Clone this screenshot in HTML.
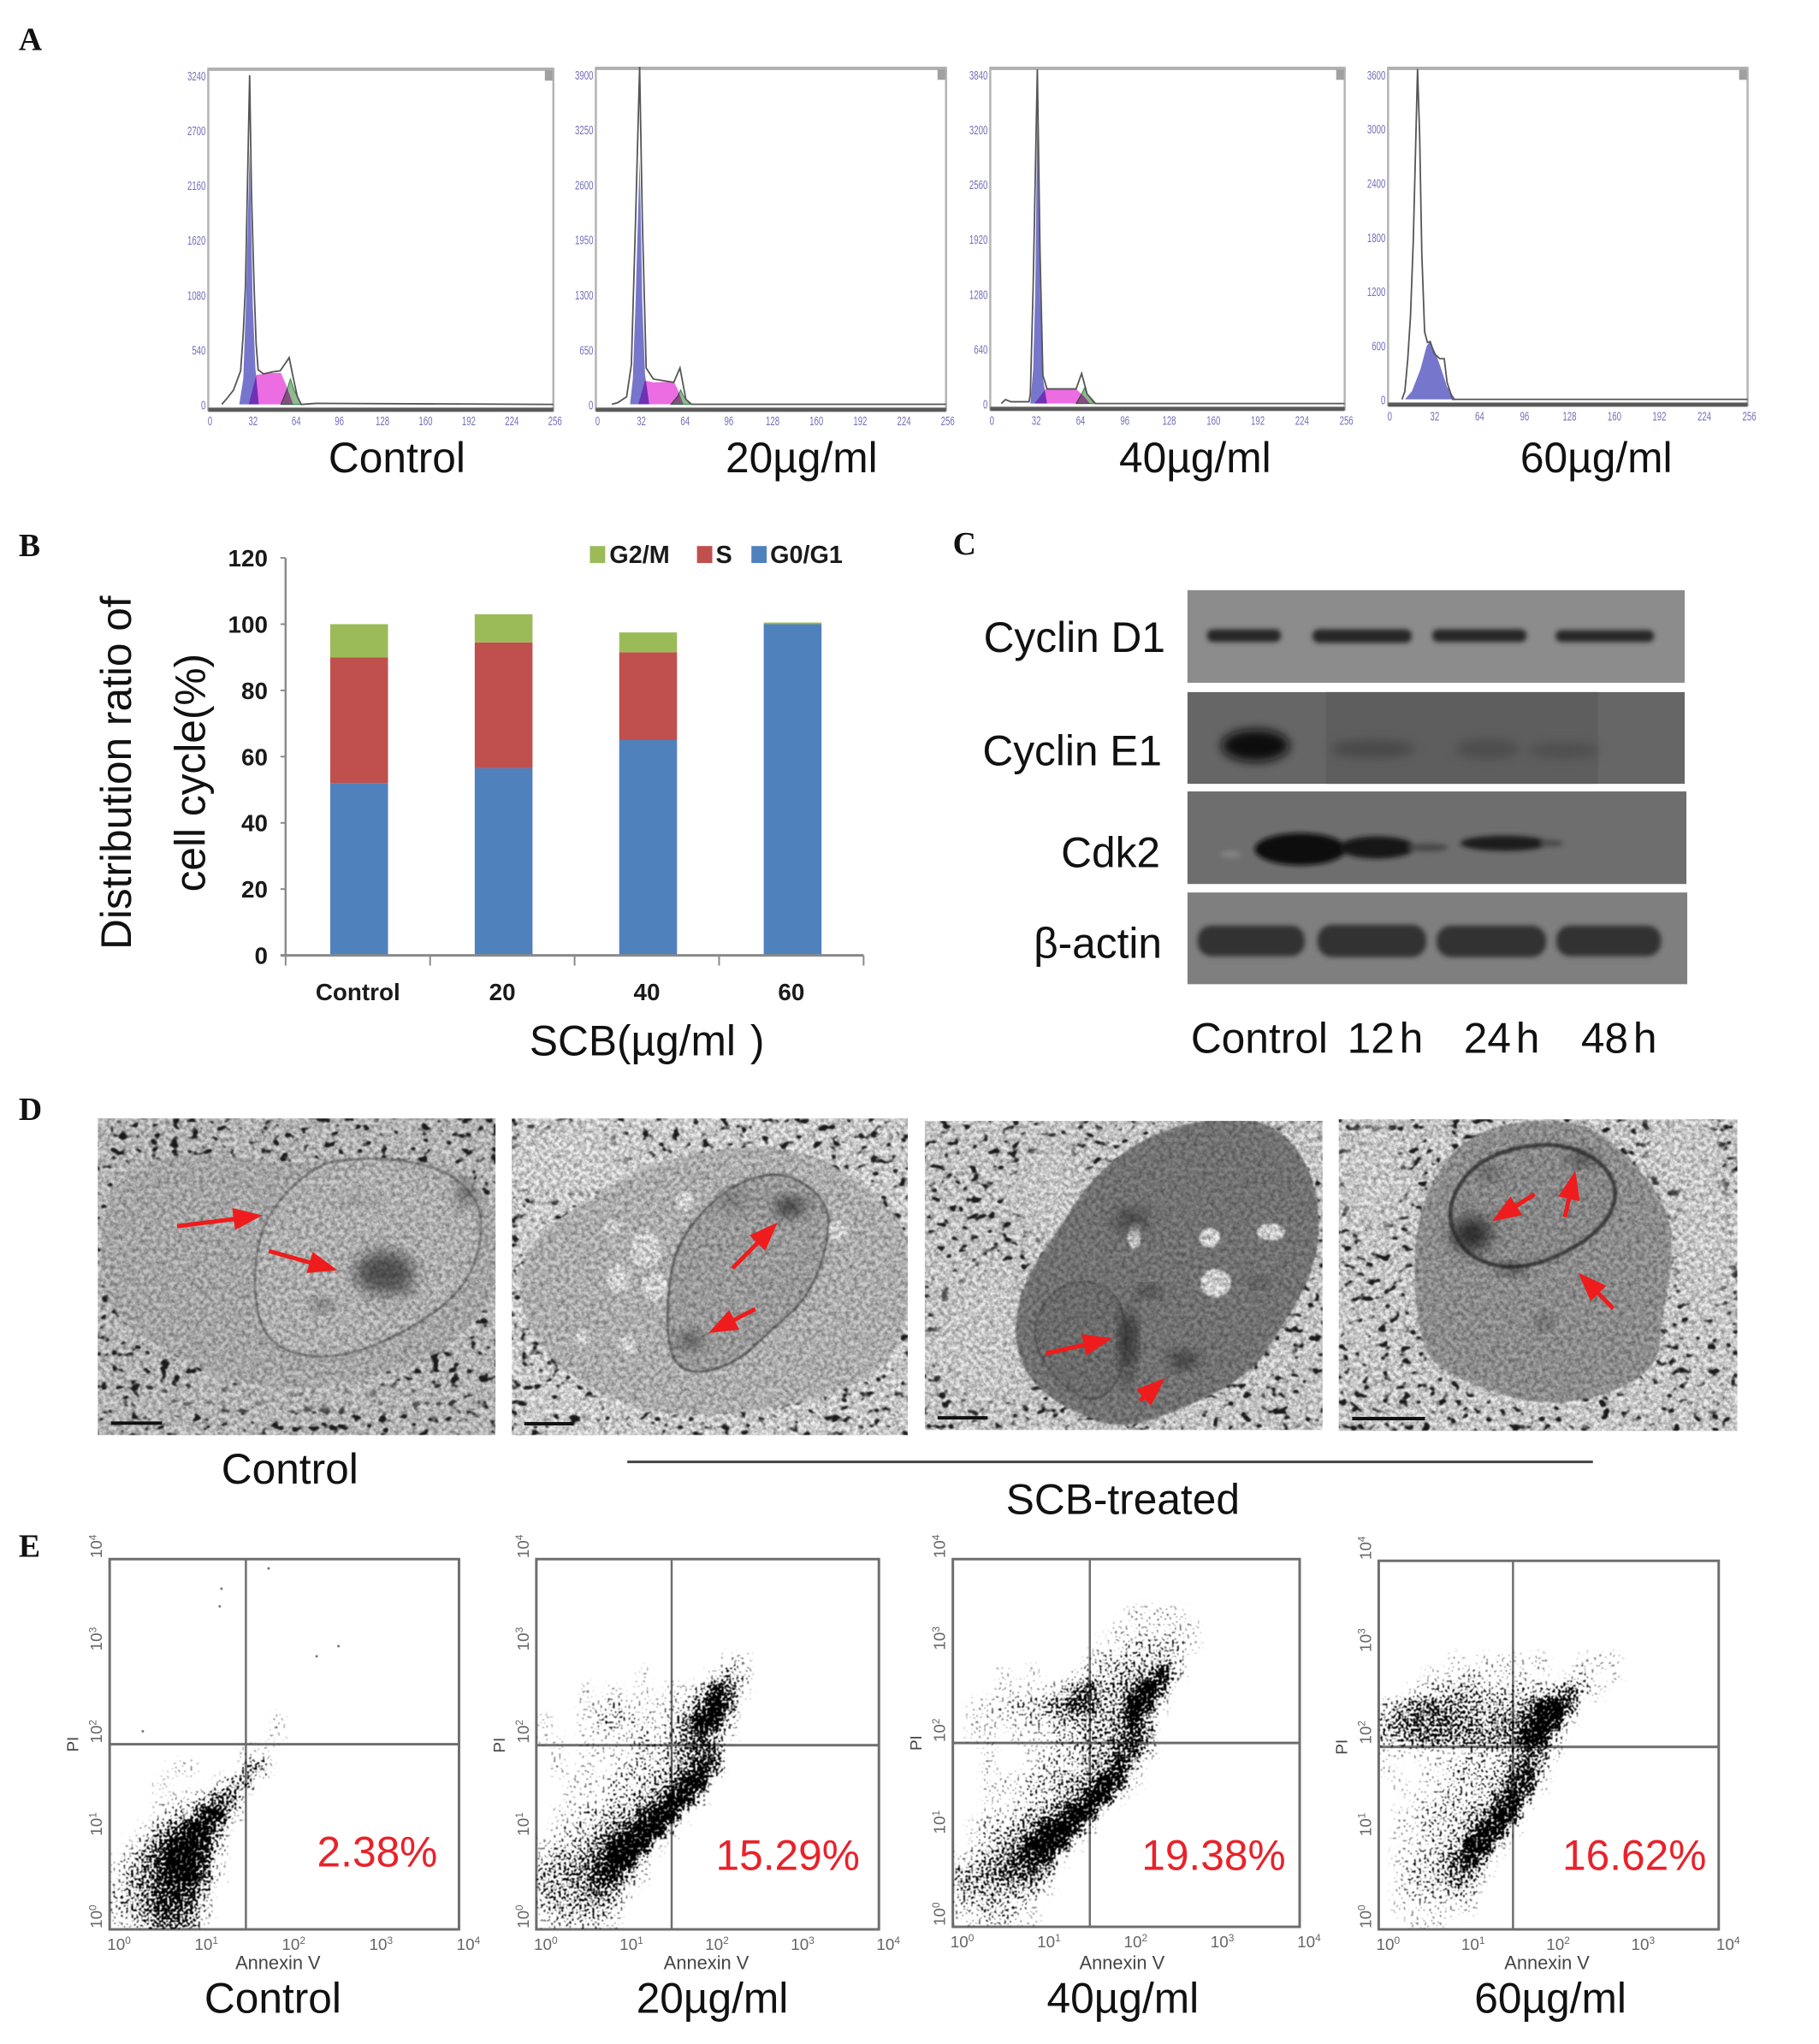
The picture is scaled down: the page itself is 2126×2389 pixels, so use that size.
<!DOCTYPE html>
<html lang="en">
<head>
<meta charset="utf-8">
<title>SCB cell cycle and apoptosis figure</title>
<style>
html,body{margin:0;padding:0;background:#fff;}
svg{display:block;}
text{font-family:"Liberation Sans",sans-serif;fill:#111;}
.letter{font-family:"Liberation Serif",serif;font-weight:bold;font-size:38px;}
.big{font-size:50px;}
</style>
</head>
<body>
<svg id="fig" xmlns="http://www.w3.org/2000/svg" width="2126" height="2389" viewBox="0 0 2140 2407" preserveAspectRatio="none">
<defs>
<filter id="stipple" x="-6%" y="-6%" width="112%" height="112%" color-interpolation-filters="sRGB">
  <feGaussianBlur in="SourceGraphic" stdDeviation="4" result="b"/>
  <feComponentTransfer in="b" result="d"><feFuncA type="gamma" exponent="0.75" amplitude="1" offset="0"/></feComponentTransfer>
  <feTurbulence type="fractalNoise" baseFrequency="0.33" numOctaves="1" seed="4" result="t"/>
  <feColorMatrix in="t" values="0 0 0 0 0  0 0 0 0 0  0 0 0 0 0  2.5 0 0 0 -0.75" result="n"/>
  <feComposite in="d" in2="n" operator="arithmetic" k1="0" k2="3" k3="2.5" k4="-2.5" result="c"/>
  <feGaussianBlur in="c" stdDeviation="0.6"/>
</filter>
<filter id="blobs" x="0" y="0" width="100%" height="100%" color-interpolation-filters="sRGB">
  <feTurbulence type="fractalNoise" baseFrequency="0.085 0.105" numOctaves="2" seed="11"/>
  <feColorMatrix values="0 0 0 0 0.1  0 0 0 0 0.1  0 0 0 0 0.1  9 0 0 0 -5.5"/>
  <feGaussianBlur stdDeviation="0.8"/>
</filter>
<filter id="speck" x="0" y="0" width="100%" height="100%" color-interpolation-filters="sRGB">
  <feTurbulence type="fractalNoise" baseFrequency="0.2" numOctaves="3" seed="7"/>
  <feColorMatrix values="0 0 0 0 0.1  0 0 0 0 0.1  0 0 0 0 0.1  0.85 0 0 0 -0.25"/>
</filter>
<filter id="blur1"><feGaussianBlur stdDeviation="1.2"/></filter>
<filter id="blur3" x="-20%" y="-60%" width="140%" height="220%"><feGaussianBlur stdDeviation="3"/></filter>
<filter id="blur6" x="-30%" y="-80%" width="160%" height="260%"><feGaussianBlur stdDeviation="6"/></filter>
<filter id="blur9" x="-40%" y="-40%" width="180%" height="180%"><feGaussianBlur stdDeviation="9"/></filter>
</defs>

<text class="letter" x="22" y="59">A</text>
<text class="letter" x="22" y="655">B</text>
<text class="letter" x="1121" y="653">C</text>
<text class="letter" x="22" y="1319">D</text>
<text class="letter" x="22" y="1833">E</text>

<g id="panelA"></g>
<text class="big" x="467" y="556" text-anchor="middle">Control</text>
<text class="big" x="943" y="556" text-anchor="middle">20µg/ml</text>
<text class="big" x="1406" y="556" text-anchor="middle">40µg/ml</text>
<text class="big" x="1878" y="556" text-anchor="middle">60µg/ml</text>

<g id="panelB"></g>
<text class="big" transform="translate(154,910) rotate(-90)" text-anchor="middle">Distribution ratio of</text>
<text class="big" transform="translate(241,910) rotate(-90)" text-anchor="middle">cell cycle(%)</text>
<text class="big" x="623" y="1243">SCB(µg/ml<tspan dx="17">)</tspan></text>

<g id="panelC">
  <rect x="1397" y="695" width="585" height="109" fill="#8c8c8c"/>
  <g fill="#262626" filter="url(#blur3)">
    <rect x="1420" y="741" width="87" height="15" rx="7"/>
    <rect x="1544" y="741" width="117" height="16" rx="8"/>
    <rect x="1685" y="741" width="111" height="15" rx="7"/>
    <rect x="1830" y="742" width="116" height="14" rx="7"/>
  </g>
  <rect x="1397" y="815" width="585" height="108" fill="#666666"/>
  <rect x="1560" y="815" width="320" height="108" fill="#5e5e5e"/>
  <g filter="url(#blur6)">
    <ellipse cx="1477" cy="878" rx="40" ry="19" fill="#0d0d0d"/>
    <ellipse cx="1615" cy="882" rx="50" ry="11" fill="#484848"/>
    <ellipse cx="1750" cy="882" rx="38" ry="12" fill="#4d4d4d"/>
    <ellipse cx="1840" cy="884" rx="42" ry="10" fill="#505050"/>
  </g>
  <rect x="1397" y="932" width="587" height="109" fill="#6e6e6e"/>
  <g filter="url(#blur3)">
    <ellipse cx="1530" cy="1000" rx="54" ry="19" fill="#0f0f0f"/>
    <ellipse cx="1620" cy="998" rx="45" ry="13" fill="#141414"/>
    <ellipse cx="1680" cy="998" rx="24" ry="5" fill="#4a4a4a"/>
    <ellipse cx="1770" cy="993" rx="52" ry="9" fill="#1e1e1e"/>
    <ellipse cx="1825" cy="993" rx="14" ry="4" fill="#4a4a4a"/>
    <ellipse cx="1448" cy="1006" rx="12" ry="4" fill="#848484"/>
  </g>
  <rect x="1397" y="1051" width="588" height="108" fill="#7f7f7f"/>
  <g fill="#303030" filter="url(#blur3)">
    <rect x="1409" y="1090" width="126" height="36" rx="16"/>
    <rect x="1550" y="1089" width="128" height="38" rx="17"/>
    <rect x="1690" y="1090" width="129" height="37" rx="17"/>
    <rect x="1831" y="1090" width="123" height="36" rx="16"/>
  </g>
  <text class="big" x="1371" y="768" text-anchor="end">Cyclin D1</text>
  <text class="big" x="1367" y="901" text-anchor="end">Cyclin E1</text>
  <text class="big" x="1365" y="1021" text-anchor="end">Cdk2</text>
  <text class="big" x="1367" y="1128" text-anchor="end">β-actin</text>
  <text class="big" x="1401" y="1240">Control</text>
  <text class="big" x="1585" y="1240" word-spacing="-8">12 h</text>
  <text class="big" x="1722" y="1240" word-spacing="-8">24 h</text>
  <text class="big" x="1860" y="1240" word-spacing="-8">48 h</text>
</g>

<g id="panelD"></g>
<text class="big" x="341" y="1747" text-anchor="middle">Control</text>
<rect x="738" y="1720" width="1136" height="3" fill="#444"/>
<text class="big" x="1321" y="1783" text-anchor="middle">SCB-treated</text>

<g id="panelE"></g>
</svg>

<script>
/* ---------- Panel A: DNA histograms ---------- */
const histXTicks = [0, 32, 64, 96, 128, 160, 192, 224, 256];

const ctrlYTicks = [0, 540, 1080, 1620, 2160, 2700, 3240];
const ctrlOutlineCh = [10, 14, 18.7, 24, 26, 27.6, 29, 30.7, 32, 34, 35.5, 37, 41, 47.6, 53.4, 57, 60, 63, 66, 69, 80, 256];
const ctrlOutlineCnt = [0, 60, 140, 330, 700, 1170, 2100, 3240, 2100, 1170, 600, 340, 300, 320, 330, 400, 460, 265, 80, 0, 10, 0];
const ctrlG1Ch = [23, 26, 28, 30.7, 33, 35, 37.5];
const ctrlG1Cnt = [0, 250, 1000, 2520, 1000, 350, 0];
const ctrlSCh = [30, 35.6, 45, 54, 58, 63];
const ctrlSCnt = [0, 290, 310, 310, 180, 0];
const ctrlG2Ch = [54, 58, 61, 64, 69];
const ctrlG2Cnt = [0, 130, 250, 130, 0];

const d20YTicks = [0, 650, 1300, 1950, 2600, 3250, 3900];
const d20OutlineCh = [11.7, 16, 22.5, 26, 29, 32, 34, 36.8, 42, 57, 61.5, 65.8, 70, 256];
const d20OutlineCnt = [0, 20, 90, 470, 2170, 3990, 2170, 430, 300, 260, 430, 60, 0, 0];
const d20G1Ch = [25, 27, 29, 32, 34, 36, 39];
const d20G1Cnt = [0, 300, 1200, 2900, 1200, 350, 0];
const d20SCh = [31, 36, 42, 57, 60, 64];
const d20SCnt = [0, 280, 260, 270, 170, 0];
const d20G2Ch = [55, 60, 62, 64, 69];
const d20G2Cnt = [0, 100, 170, 100, 0];

const d40YTicks = [0, 640, 1280, 1920, 2560, 3200, 3840];
const d40OutlineCh = [8, 11, 15, 28, 29, 31, 34, 36, 38, 41, 62, 66, 70, 76, 256];
const d40OutlineCnt = [0, 45, 20, 20, 110, 1370, 3900, 1740, 330, 170, 170, 350, 110, 0, 0];
const d40G1Ch = [29, 31, 32.5, 34, 36, 38, 41];
const d40G1Cnt = [0, 400, 1300, 3400, 1300, 300, 0];
const d40SCh = [32, 40, 62, 68, 72];
const d40SCnt = [0, 170, 170, 80, 0];
const d40G2Ch = [62, 66, 68, 70, 75];
const d40G2Cnt = [0, 110, 180, 110, 0];

const d60YTicks = [0, 600, 1200, 1800, 2400, 3000, 3600];
const d60OutlineCh = [10, 12, 14, 16, 18, 20, 21, 22.5, 24, 26, 28, 30, 33, 37, 40, 42, 46, 256];
const d60OutlineCnt = [0, 90, 435, 920, 1760, 3010, 3660, 2910, 1620, 750, 630, 640, 505, 450, 450, 190, 0, 0];
const d60G1Ch = [12, 17, 23, 27.5, 29.6, 33.7, 38, 42, 48];
const d60G1Cnt = [0, 90, 330, 590, 640, 520, 330, 140, 0];

/* ---------- Panel B: stacked bars ---------- */
const barCategories = ['Control', '20', '40', '60'];
const barYTicks = [0, 20, 40, 60, 80, 100, 120];
const seriesG0G1 = [52, 56.5, 65, 100];
const seriesS = [38, 38, 26.5, 0];
const seriesG2M = [10, 8.5, 6, 0.5];

/* ---------- Panel E: flow density (rows top to bottom, 0-9) ---------- */
const flowDecades = ['0', '1', '2', '3', '4'];
const flowPercent = ['2.38%', '15.29%', '19.38%', '16.62%'];
const flowGroups = ['Control', '20µg/ml', '40µg/ml', '60µg/ml'];
const densityControl = ['','','','','','','','','','',
 '000000000001','000000000001','00000000011','00001100033','0001000133','000111254','000123772','00135884',
 '01358972','12469961','13468951','2346763','2346652','1235541'];
const density20 = ['','','','','','',
 '000000000000011','000000010000132','000101010112751','00011211112595','10012221124982','11011112124631',
 '0101111223455','0101012223475','001112223488','001112234882','01122336981','0122346992','122348981',
 '23346982','33447731','3334531','233332','122221'];
const density40 = ['','','',
 '0000000000001111','00000000000111111','00000000001122221','0000000001222232','0001010012233472',
 '000111124533595','011222346533971','01111223333483','01101112233464','00100112233562','0010012223473',
 '0011122334871','001112234881','0011233598','0122348971','012348981','12346771','3345553','3333331','223221','112211'];
const density60 = ['','','','','','',
 '00000101111100111','00011121111101201','0012233222223521','23454433334895','34545443446971','3345444444882',
 '1111112223541','100112222463','010112223671','00112222583','0112223487','0112224881','011223882',
 '01223573','01223441','0122232','0111111','00111'];
const controlOutlierX = [1.28, 1.26, 1.82, 2.62, 2.37, 0.38];
const controlOutlierY = [3.68, 3.49, 3.9, 3.06, 2.95, 2.14];

const NS = 'http://www.w3.org/2000/svg';
function mk(tag, parent, geom) {
  const el = document.createElementNS(NS, tag);
  for (const k in geom) el.setAttribute(k, geom[k]);
  parent.appendChild(el);
  return el;
}
function txt(parent, s, x, y, size, fill, anchor, weight) {
  const t = mk('text', parent, {x: x, y: y, 'font-size': size, fill: fill, 'text-anchor': anchor || 'middle'});
  t.style.fill = fill;
  if (weight) t.setAttribute('font-weight', weight);
  t.textContent = s;
  return t;
}

/* ---- Panel A ---- */
const panelA = document.getElementById('panelA');
function drawHist(id, f, yTicks, oCh, oCnt, g1Ch, g1Cnt, sCh, sCnt, g2Ch, g2Cnt) {
  const g = mk('g', panelA, {});
  
  
  const w = f.r - f.l, h = f.b - f.t;
  const y0 = f.b - h * 0.017, yTop = f.t + h * 0.019;
  const maxT = yTicks[yTicks.length - 1];
  const sx = c => f.l + c / 256 * w;
  const sy = v => y0 - v / maxT * (y0 - yTop);
  const pts = (cs, vs) => cs.map((c, i) => sx(c).toFixed(1) + ',' + sy(vs[i]).toFixed(1)).join(' ');

  const fr = mk('rect', g, {x: f.l, y: f.t, width: w, height: h, fill: '#fff', stroke: '#b4b4b4', 'stroke-width': 2.5});
  
  
  const tb = mk('rect', g, {x: f.l, y: f.t - 1.5, width: w, height: 4, fill: '#b0b0b0'});
  
  
  const cb = mk('rect', g, {x: f.r - 10, y: f.t + 2, width: 9, height: 12, fill: '#a0a0a0'});
  
  

  const g1 = mk('polygon', g, {points: pts(g1Ch, g1Cnt), fill: '#7676cc'});
  
  
  if (sCh) {
    const s = mk('polygon', g, {points: pts(sCh, sCnt), fill: '#ec6ce2'});
    s.style.mixBlendMode = 'multiply';
    
    
    const g2 = mk('polygon', g, {points: pts(g2Ch, g2Cnt), fill: '#8fb98f', stroke: '#3f8f4f', 'stroke-width': 1.2});
    g2.style.mixBlendMode = 'multiply';
    
    
  }
  const o = mk('polyline', g, {points: pts(oCh, oCnt), fill: 'none', stroke: '#555', 'stroke-width': 1.8});
  
  
  const base = mk('rect', g, {x: f.l, y: f.b - 3, width: w, height: 5, fill: '#5a5a5a'});
  
  

  yTicks.forEach(v => {
    const s = String(v);
    const t = txt(g, s, f.l - 3, sy(v) + 6, 15, '#7470bb', 'end');
    t.setAttribute('textLength', s.length * 5.4);
    t.setAttribute('lengthAdjust', 'spacingAndGlyphs');
    
    
  });
  histXTicks.forEach(v => {
    const s = String(v);
    const t = txt(g, s, sx(v) + 2, f.b + 18, 15, '#7470bb');
    t.setAttribute('textLength', s.length * 5.4);
    t.setAttribute('lengthAdjust', 'spacingAndGlyphs');
    
    
  });
}
drawHist('control', {l: 245, r: 651, t: 81, b: 483}, ctrlYTicks, ctrlOutlineCh, ctrlOutlineCnt, ctrlG1Ch, ctrlG1Cnt, ctrlSCh, ctrlSCnt, ctrlG2Ch, ctrlG2Cnt);
drawHist('20', {l: 701, r: 1113, t: 80, b: 483}, d20YTicks, d20OutlineCh, d20OutlineCnt, d20G1Ch, d20G1Cnt, d20SCh, d20SCnt, d20G2Ch, d20G2Cnt);
drawHist('40', {l: 1165, r: 1582, t: 80, b: 482}, d40YTicks, d40OutlineCh, d40OutlineCnt, d40G1Ch, d40G1Cnt, d40SCh, d40SCnt, d40G2Ch, d40G2Cnt);
drawHist('60', {l: 1633, r: 2056, t: 80, b: 477}, d60YTicks, d60OutlineCh, d60OutlineCnt, d60G1Ch, d60G1Cnt);

/* ---- Panel B ---- */
const panelB = document.getElementById('panelB');
const barX0 = 336, barX1 = 1016, barY0 = 1125, barYTop = 657, barW = 68;
const yScale = v => barY0 - v / 120 * (barY0 - barYTop);
const xBand = i => barX0 + (i + 0.5) * (barX1 - barX0) / barCategories.length;
barCategories.forEach((c, i) => {
  let acc = 0;
  [[seriesG0G1, '#4f81bd', 'g0-g1'], [seriesS, '#c0504d', 's'], [seriesG2M, '#9bbb59', 'g2-m']].forEach(sr => {
    const v = sr[0][i];
    const r = mk('rect', panelB, {x: xBand(i) - barW / 2 + 1.5, y: yScale(acc + v), width: barW, height: yScale(acc) - yScale(acc + v), fill: sr[1]});
    
    
    acc += v;
  });
  const t = txt(panelB, c, xBand(i) - 0, 1178, 28, '#1a1a1a', 'middle', 'bold');
  
  
});
const yAx = mk('line', panelB, {x1: barX0, x2: barX0, y1: barYTop, y2: barY0, stroke: '#8a8a8a', 'stroke-width': 2.5});


const xAx = mk('line', panelB, {x1: barX0 - 6, x2: barX1, y1: barY0, y2: barY0, stroke: '#8a8a8a', 'stroke-width': 3});


barYTicks.forEach(v => {
  const m = mk('line', panelB, {x1: barX0 - 6, x2: barX0, y1: yScale(v), y2: yScale(v), stroke: '#8a8a8a', 'stroke-width': 2});
  
  
  const t = txt(panelB, String(v), 315, yScale(v) + 10, 28, '#1a1a1a', 'end', 'bold');
  
  
});
for (let i = 0; i <= barCategories.length; i++) {
  const px = barX0 + i * (barX1 - barX0) / barCategories.length;
  const m = mk('line', panelB, {x1: px, x2: px, y1: barY0, y2: barY0 + 12, stroke: '#8a8a8a', 'stroke-width': 2});
  
  
}
[['G2/M', '#9bbb59', 694, 717], ['S', '#c0504d', 820, 842], ['G0/G1', '#4f81bd', 884, 906]].forEach(l => {
  const s = mk('rect', panelB, {x: l[2], y: 643, width: 18, height: 20, fill: l[1]});
  
  
  const t = txt(panelB, l[0], l[3], 663, 29, '#1a1a1a', 'start', 'bold');
  
  
});

/* ---- Panel D ---- */
const panelD = document.getElementById('panelD');
function smooth(pts, mp) {
  const p = pts.map(mp);
  let d = '';
  for (let i = 0; i < p.length; i++) {
    const a = p[i], b = p[(i + 1) % p.length];
    const m = [(a[0] + b[0]) / 2, (a[1] + b[1]) / 2];
    d += (i === 0 ? 'M' + ((p[p.length - 1][0] + a[0]) / 2).toFixed(1) + ' ' + ((p[p.length - 1][1] + a[1]) / 2).toFixed(1) : '') +
      'Q' + a[0].toFixed(1) + ' ' + a[1].toFixed(1) + ' ' + m[0].toFixed(1) + ' ' + m[1].toFixed(1);
  }
  return d + 'Z';
}
const micrographs = [
 {id: 'control', r: [115, 1317, 468, 373], o: [163, 80, 662, 1110], bg: '#d6d6d6', cellFill: '#c2c2c2', nucFill: '#cccccc', nucStroke: '#707070', nucW: 2.5,
  clear: [[500,1060,260,30]],
  cell: [[190,300],[260,205],[420,215],[480,240],[570,215],[640,230],[750,235],[810,340],[835,500],[835,650],[790,800],[720,920],[600,1000],[480,1030],[380,1000],[300,920],[200,800],[165,640],[170,450]],
  nuc: [[520,250],[440,420],[420,650],[440,870],[540,930],[650,860],[780,680],[810,420],[760,280],[680,225],[580,220]],
  spots: [[640,620,50,75,'#555'],[535,735,16,20,'#5c5c5c'],[675,680,14,18,'#5c5c5c'],[775,345,14,40,'#5c5c5c'],[595,370,30,14,'#9d9d9d']],
  lights: [], bar: [185, 270, 1148],
  arrows: [[295,458,437,420],[448,545,562,612]]},
 {id: '20', r: [602, 1317, 466, 373], o: [852, 80, 660, 1110], bg: '#efefef', cellFill: '#cbcbcb', nucFill: '#b4b4b4', nucStroke: '#5a5a5a', nucW: 2.5,
  clear: [[950,230,100,130]],
  cell: [[1000,340],[1090,230],[1250,170],[1370,210],[1490,400],[1530,600],[1505,850],[1450,1000],[1300,1100],[1120,1130],[1000,1050],[900,900],[860,700],[880,500]],
  nuc: [[1210,320],[1300,260],[1370,350],[1385,470],[1350,700],[1280,830],[1230,930],[1160,980],[1115,930],[1110,700],[1130,500]],
  spots: [[1315,390,26,30,'#222'],[1150,860,18,24,'#2a2a2a'],[1220,370,25,30,'#808080']],
  lights: [[1075,540,26,65],[1030,640,20,50],[1090,670,22,48],[1140,370,14,36],[1395,470,15,36],[970,850,15,22],[1045,875,15,30],[1020,460,14,24]],
  bar: [873, 955, 1150],
  arrows: [[1220,605,1295,445],[1258,748,1180,832]]},
 {id: '40', r: [1088, 1320, 468, 364], o: [30, 88, 684, 1090], bg: '#e8e8e8', cellFill: '#848484', nucFill: '#7c7c7c', nucStroke: '#4a4a4a', nucW: 1.5,
  clear: [[140,850,90,240],[250,350,60,180],[680,150,40,60]],
  cell: [[420,130],[530,75],[620,90],[680,200],[712,400],[700,620],[640,830],[590,980],[490,1090],[370,1180],[280,1110],[210,1010],[180,850],[200,650],[260,470],[320,280]],
  nuc: [[300,640],[370,700],[380,950],[330,1090],[260,1020],[210,850],[240,700]],
  spots: [[380,860,12,110,'#1a1a1a'],[475,930,22,24,'#1c1c1c'],[415,690,16,18,'#1c1c1c'],[385,440,30,40,'#4a4a4a'],[605,660,12,14,'#222'],[378,1000,7,30,'#2a2a2a']],
  lights: [[390,490,12,48],[625,480,24,30],[530,660,26,50],[520,500,18,34]],
  bar: [52, 138, 1135],
  arrows: [[238,908,352,855],[400,1075,443,995]]},
 {id: '60', r: [1575, 1318, 469, 367], o: [742, 88, 684, 1090], bg: '#ebebeb', cellFill: '#a4a4a4', nucFill: '#9e9e9e', nucStroke: '#444444', nucW: 5,
  clear: [[800,300,50,190],[1370,500,50,250],[1330,200,60,120]],
  cell: [[960,150],[1050,90],[1170,100],[1240,220],[1310,400],[1315,600],[1295,800],[1290,950],[1210,1050],[1100,1090],[1000,1040],[900,950],[875,800],[870,500],[900,300]],
  nuc: [[1030,190],[1130,170],[1210,260],[1220,400],[1160,530],[1050,620],[960,570],[925,420],[960,270]],
  spots: [[970,490,34,60,'#2c2c2c'],[1160,225,20,22,'#2a2a2a'],[1040,612,20,18,'#222'],[1000,280,14,18,'#333'],[1095,800,10,22,'#2e2e2e']],
  lights: [],
  bar: [765, 890, 1135],
  arrows: [[1078,350,1005,445],[1130,430,1148,268],[1213,750,1153,625]]}
];
micrographs.forEach((m, idx) => {
  const R = m.r, O = m.o;
  const mp = p => [R[0] + (p[0] - O[0]) / O[2] * R[2], R[1] + (p[1] - O[1]) / O[3] * R[3]];
  const sxK = R[2] / O[2], syK = R[3] / O[3];
  const clip = mk('clipPath', panelD, {id: 'mclip' + idx});
  mk('rect', clip, {x: R[0], y: R[1], width: R[2], height: R[3]});
  const g = mk('g', panelD, {'clip-path': 'url(#mclip' + idx + ')'});
  
  
  const bg = mk('rect', g, {x: R[0], y: R[1], width: R[2], height: R[3], fill: m.bg});
  
  
  const bl = mk('rect', g, {x: R[0], y: R[1], width: R[2], height: R[3], filter: 'url(#blobs)'});
  
  
  m.clear.forEach(s => {
    const p = mp(s);
    const e = mk('ellipse', g, {cx: p[0], cy: p[1], rx: s[2] * sxK, ry: s[3] * syK, fill: m.bg, filter: 'url(#blur9)'});
    
    
  });
  const c = mk('path', g, {d: smooth(m.cell, mp), fill: m.cellFill, filter: 'url(#blur1)'});
  
  
  const n = mk('path', g, {d: smooth(m.nuc, mp), fill: m.nucFill, stroke: m.nucStroke, 'stroke-width': m.nucW, filter: 'url(#blur1)'});
  
  
  m.lights.forEach(s => {
    const p = mp(s);
    const e = mk('ellipse', g, {cx: p[0], cy: p[1], rx: s[2] * sxK, ry: s[3] * syK, fill: '#f0f0f0', filter: 'url(#blur1)'});
    
    
  });
  m.spots.forEach(s => {
    const p = mp(s);
    const e = mk('ellipse', g, {cx: p[0], cy: p[1], rx: s[2] * sxK, ry: s[3] * syK, fill: s[4], filter: 'url(#blur9)', opacity: 0.95});
    
    
  });
  const sp = mk('rect', g, {x: R[0], y: R[1], width: R[2], height: R[3], filter: 'url(#speck)'});
  
  
  const b0 = mp([m.bar[0], m.bar[2]]), b1 = mp([m.bar[1], m.bar[2]]);
  const sb = mk('rect', g, {x: b0[0], y: b0[1] - 2, width: b1[0] - b0[0], height: 4, fill: '#111'});
  
  
  m.arrows.forEach(a => {
    const s = mp([a[0], a[1]]), e = mp([a[2], a[3]]);
    const dx = e[0] - s[0], dy = e[1] - s[1], L = Math.hypot(dx, dy), ux = dx / L, uy = dy / L;
    const hl = 34, hw = 13, sw = 2.5;
    const bx = e[0] - ux * hl, by = e[1] - uy * hl;
    const d = ['M', s[0] - uy * sw, s[1] + ux * sw, 'L', bx - uy * sw, by + ux * sw, 'L', bx - uy * hw, by + ux * hw, 'L', e[0], e[1],
      'L', bx + uy * hw, by - ux * hw, 'L', bx + uy * sw, by - ux * sw, 'L', s[0] + uy * sw, s[1] - ux * sw, 'Z'].join(' ');
    const ar = mk('path', g, {d: d, fill: '#ee1c1c'});
    
    
  });
});

/* ---- Panel E ---- */
const panelE = document.getElementById('panelE');
function drawFlow(id, f, gx, gy, density, pctIdx, pctX, pctY, lblX, annX) {
  const g = mk('g', panelE, {});
  
  
  const w = f.r - f.l, h = f.b - f.t;
  const xs = d => f.l + d / 4 * w;
  const ys = d => f.b - d / 4 * h;
  const fr = mk('rect', g, {x: f.l, y: f.t, width: w, height: h, fill: '#fff', stroke: '#6e6e6e', 'stroke-width': 3});
  
  
  const v = mk('line', g, {x1: xs(gx), x2: xs(gx), y1: f.t, y2: f.b, stroke: '#6e6e6e', 'stroke-width': 2.5});
  
  
  const hz = mk('line', g, {x1: f.l, x2: f.r, y1: ys(gy), y2: ys(gy), stroke: '#6e6e6e', 'stroke-width': 3});
  
  

  const clip = mk('clipPath', g, {id: 'fclip' + id});
  mk('rect', clip, {x: f.l, y: f.t, width: w, height: h});
  const cg = mk('g', g, {'clip-path': 'url(#fclip' + id + ')'});
  
  
  const inner = mk('g', cg, {filter: 'url(#stipple)'});
  const nR = density.length, nC = 24;
  const pad = mk('rect', inner, {x: f.l, y: f.t, width: w, height: h, fill: '#000', 'fill-opacity': 0});
  
  
  density.forEach((row, r) => {
    for (let c = 0; c < row.length; c++) {
      const val = +row[c];
      if (!val) continue;
      const decX = c / nC * 4, decTop = 4 - r / nR * 4;
      const cell = mk('rect', inner, {x: xs(decX), y: ys(decTop), width: w / nC + 0.5, height: h / nR + 0.5, fill: '#000', 'fill-opacity': (val / 9).toFixed(3)});
      
      
    }
  });

  flowDecades.forEach((d, i) => {
    const tx = mk('text', g, {x: xs(i) + 11, y: f.b + 24, 'font-size': 19, 'text-anchor': 'middle'});
    tx.style.fill = '#666';
    tx.textContent = '10';
    const ts = mk('tspan', tx, {dy: -7, 'font-size': 12});
    ts.textContent = d;
    
    
    const ty = mk('text', g, {transform: 'translate(' + (f.l - 9) + ',' + (ys(i) - 15) + ') rotate(-90)', 'font-size': 19, 'text-anchor': 'middle'});
    ty.style.fill = '#666';
    ty.textContent = '10';
    const ts2 = mk('tspan', ty, {dy: -7, 'font-size': 12});
    ts2.textContent = d;
    
    
  });
  const pi = mk('text', g, {transform: 'translate(' + (f.l - 37) + ',' + (ys(gy) + 0) + ') rotate(-90)', 'font-size': 19, 'text-anchor': 'middle'});
  pi.style.fill = '#444';
  pi.textContent = 'PI';
  
  
  const an = txt(g, 'Annexin V', annX, 2319, 22, '#444');
  
  
  const pc = txt(g, flowPercent[pctIdx], pctX, pctY, 50, '#e8222a', 'start');
  
  
  const lb = txt(g, flowGroups[pctIdx], lblX, 2370, 50, '#111');
  
  
  return {xs: xs, ys: ys, g: g};
}
const flowCtl = drawFlow('control', {l: 129, r: 540, t: 1836, b: 2272}, 1.56, 2.0, densityControl, 0, 373, 2198, 321, 327);
drawFlow('20', {l: 631, r: 1034, t: 1836, b: 2272}, 1.58, 1.99, density20, 1, 842, 2202, 838, 831);
drawFlow('40', {l: 1121, r: 1529, t: 1836, b: 2269}, 1.58, 2.0, density40, 2, 1343, 2202, 1321, 1320);
drawFlow('60', {l: 1622, r: 2022, t: 1838, b: 2272}, 1.58, 1.98, density60, 3, 1838, 2202, 1824, 1820);
controlOutlierX.forEach((d, i) => {
  const c = mk('circle', flowCtl.g, {cx: flowCtl.xs(d), cy: flowCtl.ys(controlOutlierY[i]), r: 1.5, fill: '#777'});
  
  
});
</script>
</body>
</html>
